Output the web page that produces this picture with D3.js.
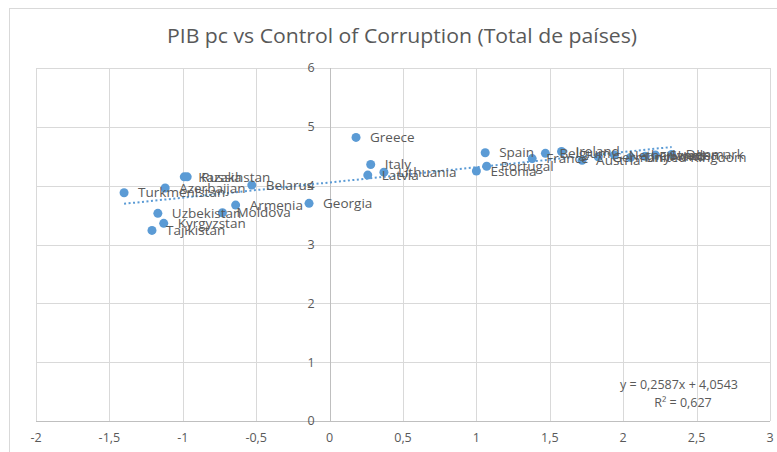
<!DOCTYPE html>
<html>
<head>
<meta charset="utf-8">
<script src="https://cdn.jsdelivr.net/npm/d3@7"></script>
<style>
  body { margin: 0; background: #fff; }
  #container { width: 777px; height: 452px; }
  text { font-family: "Open Sans", sans-serif; }
</style>
</head>
<body>
<div id="container"></div>
<script>
// countries and their values (x = control of corruption, y = log PIB pc)
const countries = ["Turkmenistan", "Azerbaijan", "Kazakhstan", "Russia", "Belarus", "Armenia",
  "Georgia", "Uzbekistan", "Moldova", "Kyrgyzstan", "Tajikistan", "Greece", "Italy", "Latvia",
  "Lithuania", "Estonia", "Portugal", "Spain", "France", "Belgium", "Ireland", "Austria",
  "Germany", "Netherlands", "United Kingdom", "Finland", "Sweden", "Denmark"];
const corruption = [-1.40, -1.12, -0.99, -0.97, -0.53, -0.64,
  -0.14, -1.17, -0.73, -1.13, -1.21, 0.18, 0.28, 0.26,
  0.37, 1.00, 1.07, 1.06, 1.38, 1.47, 1.58, 1.72,
  1.83, 1.94, 2.05, 2.15, 2.22, 2.33];
const pibpc = [3.88, 3.96, 4.15, 4.15, 4.01, 3.67,
  3.70, 3.53, 3.54, 3.36, 3.24, 4.82, 4.36, 4.18,
  4.23, 4.25, 4.33, 4.56, 4.46, 4.55, 4.58, 4.43,
  4.49, 4.52, 4.48, 4.50, 4.52, 4.53];

const xTicks = [-2, -1.5, -1, -0.5, 0, 0.5, 1, 1.5, 2, 2.5, 3];
const yTicks = [0, 1, 2, 3, 4, 5, 6];

// trendline as shown on the chart
const slope = 0.2587, intercept = 4.0543, r2 = 0.627;

const W = 777, H = 452;
const plot = { left: 36, right: 770, top: 68, bottom: 421 };
const blue = "#5b9bd5";
const fmt = function(v) { return String(v).replace(".", ","); };

let svg = d3.select("#container").append("svg")
  .attr("width", W)
  .attr("height", H);

let x = d3.scaleLinear().domain([-2, 3]).range([plot.left, plot.right]);
let y = d3.scaleLinear().domain([0, 6]).range([plot.bottom, plot.top]);

// chart frame
svg.append("rect")
  .attr("x", 9.5).attr("y", 8.5)
  .attr("width", W + 10).attr("height", H + 10)
  .attr("fill", "#fff")
  .attr("stroke", "#d9d9d9");

// title
svg.append("text")
  .attr("x", 402).attr("y", 43)
  .attr("text-anchor", "middle")
  .attr("font-size", "20px")
  .attr("fill", "#595959")
  .attr("textLength", 470)
  .attr("lengthAdjust", "spacingAndGlyphs")
  .text("PIB pc vs Control of Corruption (Total de países)");

// gridlines
svg.append("g").selectAll("line")
  .data(xTicks)
  .enter().append("line")
    .attr("x1", d => Math.round(x(d)) + 0.5).attr("x2", d => Math.round(x(d)) + 0.5)
    .attr("y1", plot.top).attr("y2", plot.bottom)
    .attr("stroke", "#d9d9d9");

svg.append("g").selectAll("line")
  .data(yTicks)
  .enter().append("line")
    .attr("x1", plot.left).attr("x2", plot.right)
    .attr("y1", d => Math.round(y(d)) + 0.5).attr("y2", d => Math.round(y(d)) + 0.5)
    .attr("stroke", "#d9d9d9");

// axis lines crossing at zero
svg.append("line")
  .attr("x1", Math.round(x(0)) + 0.5).attr("x2", Math.round(x(0)) + 0.5)
  .attr("y1", plot.top).attr("y2", plot.bottom)
  .attr("stroke", "#bfbfbf");
svg.append("line")
  .attr("x1", plot.left).attr("x2", plot.right)
  .attr("y1", Math.round(y(0)) + 0.5).attr("y2", Math.round(y(0)) + 0.5)
  .attr("stroke", "#bfbfbf");

// tick labels
svg.append("g").selectAll("text")
  .data(xTicks)
  .enter().append("text")
    .attr("x", d => x(d))
    .attr("y", 442)
    .attr("text-anchor", "middle")
    .attr("font-size", "12.5px")
    .attr("fill", "#595959")
    .text(fmt);

svg.append("g").selectAll("text")
  .data(yTicks)
  .enter().append("text")
    .attr("x", x(0) - 15)
    .attr("y", d => y(d))
    .attr("dy", "0.35em")
    .attr("text-anchor", "end")
    .attr("font-size", "12.5px")
    .attr("fill", "#595959")
    .text(fmt);

// trendline over the data range
let xr = d3.extent(corruption);
svg.append("line")
  .attr("x1", x(xr[0])).attr("y1", y(slope * xr[0] + intercept))
  .attr("x2", x(xr[1])).attr("y2", y(slope * xr[1] + intercept))
  .attr("stroke", blue)
  .attr("stroke-width", 2)
  .attr("stroke-dasharray", "2,2.5");

let data = countries.map(function(c, i) {
  return { name: c, cc: corruption[i], pib: pibpc[i] };
});

// points
svg.append("g").selectAll("circle")
  .data(data)
  .enter().append("circle")
    .attr("cx", d => x(d.cc))
    .attr("cy", d => y(d.pib))
    .attr("r", 4.5)
    .attr("fill", blue);

// data labels to the right
svg.append("g").selectAll("text")
  .data(data)
  .enter().append("text")
    .attr("x", d => x(d.cc) + 14)
    .attr("y", d => y(d.pib))
    .attr("dy", "0.35em")
    .attr("font-size", "13.5px")
    .attr("fill", "#595959")
    .text(d => d.name);

// equation
let eq = svg.append("text")
  .attr("text-anchor", "middle")
  .attr("font-size", "12.5px")
  .attr("fill", "#595959");
eq.append("tspan")
  .attr("x", 679).attr("y", 389)
  .text("y = " + fmt(slope) + "x + " + fmt(intercept));
eq.append("tspan")
  .attr("x", 683).attr("y", 407)
  .text("R² = " + fmt(r2));
</script>
</body>
</html>
